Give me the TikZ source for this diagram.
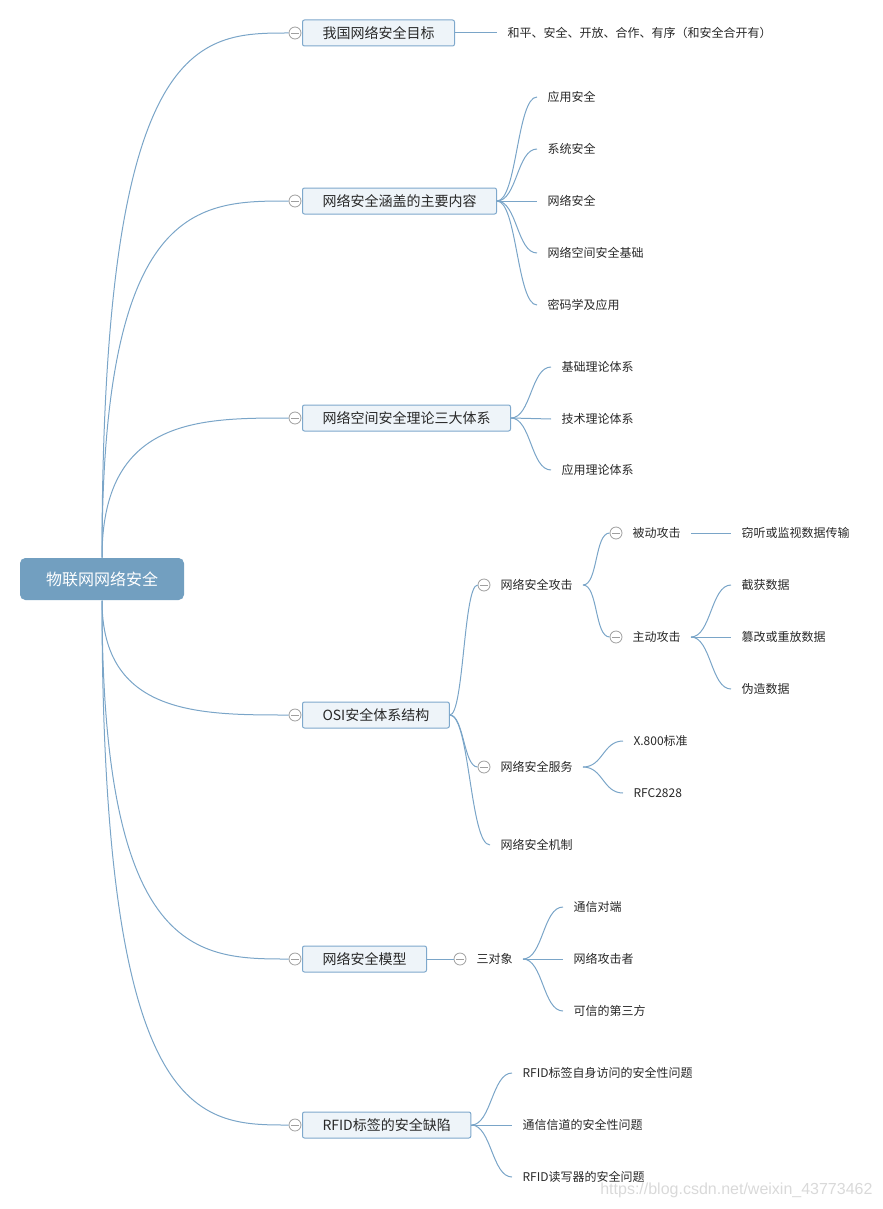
\documentclass[tikz,border=0pt]{standalone}
\usepackage{fontspec}
\setmainfont{Noto Sans CJK SC}
\newfontfamily\markfont{Liberation Sans}

\definecolor{linkblue}{RGB}{122,165,200}
\definecolor{boxfill}{RGB}{238,244,249}
\definecolor{boxline}{RGB}{126,168,204}
\definecolor{rootfill}{RGB}{114,159,192}
\definecolor{inkgray}{RGB}{40,40,40}

\tikzset{every picture/.style={line width=0.75pt}}
\tikzset{
  root/.style={fill=rootfill, rounded corners=4pt, text=white, font=\fontsize{12}{14}\selectfont, minimum width=123pt, minimum height=31.5pt},
  topic/.style={draw=boxline, fill=boxfill, rounded corners=1.5pt, text=inkgray, font=\fontsize{10.5}{12}\selectfont, inner xsep=15pt, minimum height=19.5pt, anchor=west},
  sub/.style={anchor=west, inner xsep=7.5pt, inner ysep=1pt, text=inkgray, font=\fontsize{9}{11}\selectfont},
  fold/.style={circle, draw=gray!75, fill=white, minimum size=9pt, inner sep=0pt, line width=0.6pt,
    path picture={\draw[gray!75, line width=0.6pt] ([xshift=1.8pt]path picture bounding box.west) -- ([xshift=-1.8pt]path picture bounding box.east);}},
  branch/.style={draw=linkblue, line width=0.75pt},
}

\begin{document}
\begin{tikzpicture}[x=0.75pt,y=0.75pt,yscale=-1,xscale=1]
\useasboundingbox (0,0) rectangle (882,1209);

% Root
\node[root] (root) at (102,579) {物联网网络安全};

% Topics
\node[topic] (t1) at (302,33) {我国网络安全目标};
\node[topic] (t2) at (302,201) {网络安全涵盖的主要内容};
\node[topic] (t3) at (302,418) {网络空间安全理论三大体系};
\node[topic] (t4) at (302,715) {OSI安全体系结构};
\node[topic] (t5) at (302,959) {网络安全模型};
\node[topic] (t6) at (302,1125) {RFID标签的安全缺陷};
\node[fold] (f1) at (295,33) {};
\node[fold] (f2) at (295,201) {};
\node[fold] (f3) at (295,418) {};
\node[fold] (f4) at (295,715) {};
\node[fold] (f5) at (295,959) {};
\node[fold] (f6) at (295,1125) {};

% Root to topics
\draw[branch] (root.north) .. controls (root.north |- f1.west) and +(-90,0) .. (f1.west);
\draw[branch] (root.north) .. controls (root.north |- f2.west) and +(-90,0) .. (f2.west);
\draw[branch] (root.north) .. controls (root.north |- f3.west) and +(-90,0) .. (f3.west);
\draw[branch] (root.south) .. controls (root.south |- f4.west) and +(-90,0) .. (f4.west);
\draw[branch] (root.south) .. controls (root.south |- f5.west) and +(-90,0) .. (f5.west);
\draw[branch] (root.south) .. controls (root.south |- f6.west) and +(-90,0) .. (f6.west);

% Goal
\node[sub] (a11) at (497,33) {和平、安全、开放、合作、有序（和安全合开有）};
\draw[branch] (t1.east) -- (a11.west);

% Contents
\node[sub] (a21) at (537,97) {应用安全};
\node[sub] (a22) at (537,149) {系统安全};
\node[sub] (a23) at (537,201) {网络安全};
\node[sub] (a24) at (537,253) {网络空间安全基础};
\node[sub] (a25) at (537,305) {密码学及应用};
\foreach \n in {a21,a22,a23,a24,a25}
  \draw[branch] (t2.east) .. controls +(20,0) and +(-20,0) .. (\n.west);

% Three systems
\node[sub] (a31) at (551,367) {基础理论体系};
\node[sub] (a32) at (551,419) {技术理论体系};
\node[sub] (a33) at (551,470) {应用理论体系};
\foreach \n in {a31,a32,a33}
  \draw[branch] (t3.east) .. controls +(20,0) and +(-20,0) .. (\n.west);

% OSI
\node[fold] (f41) at (484,585) {};
\node[sub] (a41) at (490,585) {网络安全攻击};
\node[fold] (f42) at (484,767) {};
\node[sub] (a42) at (490,767) {网络安全服务};
\node[sub] (a43) at (490,845) {网络安全机制};
\draw[branch] (t4.east) .. controls +(14,0) and +(-14,0) .. (f41.west);
\draw[branch] (t4.east) .. controls +(14,0) and +(-14,0) .. (f42.west);
\draw[branch] (t4.east) .. controls +(20,0) and +(-20,0) .. (a43.west);

% Attacks
\node[fold] (f411) at (616,533) {};
\node[sub] (a411) at (622,533) {被动攻击};
\node[fold] (f412) at (616,637) {};
\node[sub] (a412) at (622,637) {主动攻击};
\draw[branch] (a41.east) .. controls +(15,0) and +(-15,0) .. (f411.west);
\draw[branch] (a41.east) .. controls +(15,0) and +(-15,0) .. (f412.west);
\node[sub] (b1) at (731,533) {窃听或监视数据传输};
\draw[branch] (a411.east) -- (b1.west);
\node[sub] (b2) at (731,585) {截获数据};
\node[sub] (b3) at (731,637) {篡改或重放数据};
\node[sub] (b4) at (731,689) {伪造数据};
\foreach \n in {b2,b3,b4}
  \draw[branch] (a412.east) .. controls +(20,0) and +(-20,0) .. (\n.west);

% Services
\node[sub] (b5) at (623,741) {X.800标准};
\node[sub] (b6) at (623,793) {RFC2828};
\foreach \n in {b5,b6}
  \draw[branch] (a42.east) .. controls +(20,0) and +(-20,0) .. (\n.west);

% Model
\node[fold] (f51) at (460,959) {};
\node[sub] (a51) at (466,959) {三对象};
\draw[branch] (t5.east) -- (f51.west);
\node[sub] (b7) at (563,907) {通信对端};
\node[sub] (b8) at (563,959) {网络攻击者};
\node[sub] (b9) at (563,1011) {可信的第三方};
\foreach \n in {b7,b8,b9}
  \draw[branch] (a51.east) .. controls +(20,0) and +(-20,0) .. (\n.west);

% RFID
\node[sub] (a61) at (512,1073) {RFID标签自身访问的安全性问题};
\node[sub] (a62) at (512,1125) {通信信道的安全性问题};
\node[sub] (a63) at (512,1177) {RFID读写器的安全问题};
\foreach \n in {a61,a62,a63}
  \draw[branch] (t6.east) .. controls +(20,0) and +(-20,0) .. (\n.west);

% Watermark
\node[anchor=east, inner sep=0pt, text=gray!30, font=\markfont\fontsize{12}{14}\selectfont] (wm) at (873,1190) {https://blog.csdn.net/weixin\_43773462};
\end{tikzpicture}
\end{document}
